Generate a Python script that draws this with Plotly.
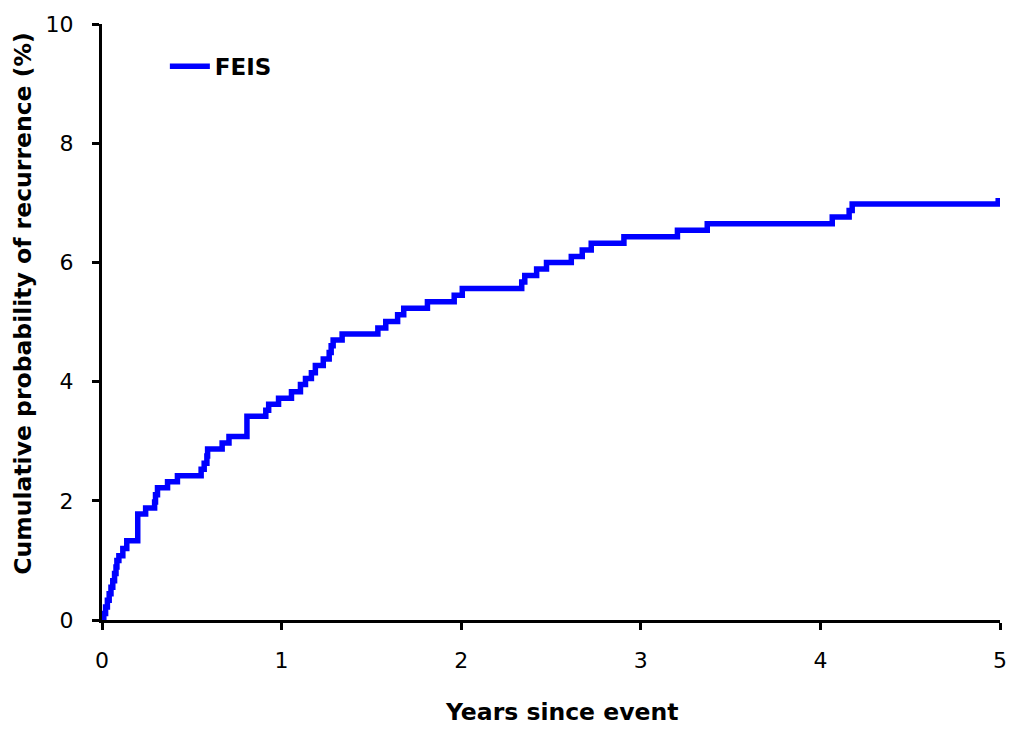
import plotly.graph_objects as go

# Step times (years) and cumulative probability of recurrence (%) for FEIS
years = [0.0, 0.01, 0.02, 0.03, 0.04, 0.05, 0.06, 0.07, 0.078, 0.083,
         0.094, 0.116, 0.138, 0.199, 0.243, 0.293, 0.298, 0.309, 0.365, 0.42,
         0.552, 0.569, 0.584, 0.588, 0.669, 0.707, 0.807, 0.912, 0.928, 0.983,
         1.055, 1.105, 1.133, 1.166, 1.188, 1.232, 1.265, 1.276, 1.287, 1.337,
         1.536, 1.58, 1.646, 1.68, 1.812, 1.961, 2.006, 2.337, 2.354, 2.42,
         2.475, 2.613, 2.674, 2.724, 2.906, 3.204, 3.37, 4.066, 4.16, 4.177,
         4.99]
recurrence = [0.0, 0.11, 0.22, 0.33, 0.44, 0.55, 0.66, 0.78, 0.89, 1.0,
              1.08, 1.2, 1.33, 1.78, 1.88, 1.98, 2.1, 2.22, 2.32, 2.42,
              2.53, 2.63, 2.75, 2.87, 2.97, 3.08, 3.42, 3.52, 3.62, 3.72,
              3.83, 3.95, 4.05, 4.15, 4.27, 4.38, 4.49, 4.6, 4.7, 4.8,
              4.9, 5.01, 5.12, 5.23, 5.34, 5.45, 5.56, 5.67, 5.78, 5.89,
              6.0, 6.1, 6.21, 6.32, 6.43, 6.54, 6.65, 6.76, 6.87, 6.98,
              7.08]

x_ticks = [0, 1, 2, 3, 4, 5]
y_ticks = [0, 2, 4, 6, 8, 10]

FONT = "DejaVu Sans"

fig = go.Figure()
fig.add_trace(go.Scatter(
    x=years, y=recurrence, mode="lines", name="<b>FEIS</b>",
    line=dict(color="#0000FF", width=5.5, shape="hv"),
    cliponaxis=False,
))

fig.update_layout(
    width=1019, height=731,
    margin=dict(l=102, r=12, t=20, b=111),
    paper_bgcolor="white", plot_bgcolor="white",
    font=dict(family=FONT, size=22, color="black"),
    showlegend=True,
    legend=dict(x=0.07, y=0.965, xanchor="left", yanchor="top",
                bgcolor="rgba(0,0,0,0)", font=dict(family=FONT, size=23, color="black"),
                itemwidth=40),
    xaxis=dict(range=[0, 5], tickvals=x_ticks, ticks="outside", ticklen=7, tickwidth=3,
               tickcolor="black", showline=True, linecolor="black", linewidth=3,
               showgrid=False, zeroline=False, ticklabelstandoff=12,
               tickfont=dict(family=FONT, size=22)),
    yaxis=dict(range=[0, 10], tickvals=y_ticks, ticks="outside", ticklen=7, tickwidth=3,
               tickcolor="black", showline=True, linecolor="black", linewidth=3,
               showgrid=False, zeroline=False, ticklabelstandoff=14,
               tickfont=dict(family=FONT, size=22)),
    annotations=[
        dict(text="<b>Years since event</b>", xref="paper", yref="paper",
             x=(565 - 102) / 905, y=-(713 - 620) / 600, xanchor="center", yanchor="middle",
             showarrow=False, font=dict(family=FONT, size=23.5, color="black")),
        dict(text="<b>Cumulative probability of recurrence (%)</b>", xref="paper", yref="paper",
             x=-(102 - 23) / 905, y=(620 - 302) / 600, xanchor="center", yanchor="middle",
             textangle=-90, showarrow=False, font=dict(family=FONT, size=23.5, color="black")),
    ],
)

fig.write_html("out.html")
